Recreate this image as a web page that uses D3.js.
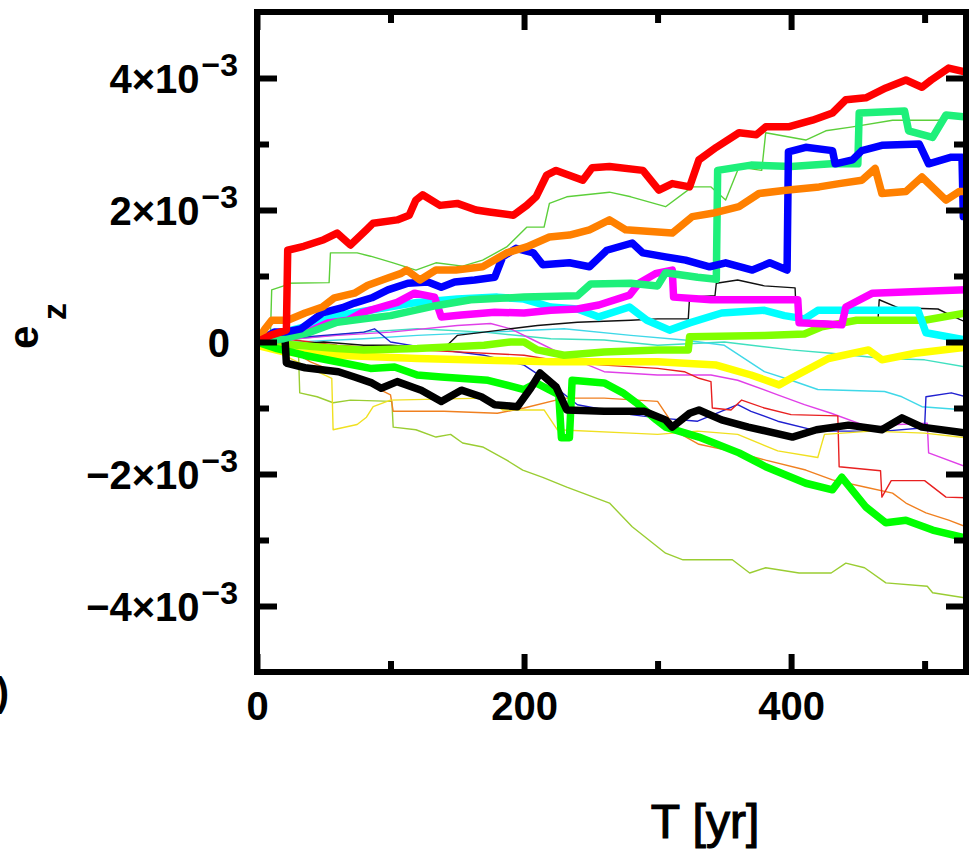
<!DOCTYPE html>
<html>
<head>
<meta charset="utf-8">
<script src="https://cdn.jsdelivr.net/npm/d3@7"></script>
<style>
  body { margin: 0; background: #fff; }
  text { font-family: "Liberation Sans", Arial, sans-serif; fill: #000; }
</style>
</head>
<body>
<div id="chart"></div>
<script>
// e_z values in units of 1e-3 as [T (yr), e_z]
var UNIT = 1e-3;

// thick lines
var redThick = [[0,0],[10,0.1],[22,0.18],[23,1.39],[35,1.45],[50,1.55],[60,1.65],[70,1.47],[82,1.7],[87,1.8],[105,1.85],[114,1.92],[119,2.15],[124,2.23],[137,2.07],[150,2.1],[164,2.0],[174,1.97],[192,1.92],[202,2.07],[209,2.2],[217,2.53],[224,2.6],[244,2.45],[251,2.64],[264,2.66],[289,2.6],[301,2.3],[311,2.4],[324,2.35],[331,2.76],[344,2.95],[361,3.17],[374,3.14],[381,3.26],[398,3.26],[416,3.36],[431,3.47],[441,3.67],[456,3.7],[471,3.85],[486,3.97],[498,3.86],[505,3.97],[518,4.15],[531,4.09]];
var orangeThick = [[0,0],[6,0.2],[11,0.33],[23,0.33],[36,0.44],[49,0.53],[58,0.67],[73,0.74],[83,0.86],[98,0.97],[108,1.04],[112,1.09],[122,0.94],[134,1.09],[149,1.09],[169,1.14],[187,1.35],[202,1.44],[219,1.59],[234,1.62],[249,1.7],[264,1.85],[276,1.7],[311,1.65],[326,1.9],[341,1.95],[361,2.05],[376,2.25],[396,2.3],[421,2.35],[436,2.4],[453,2.45],[463,2.63],[468,2.25],[486,2.28],[498,2.5],[516,2.15],[526,2.28],[531,2.28]];
var blueThick = [[0,0],[13,0.15],[21,0.15],[33,0.2],[49,0.44],[64,0.52],[73,0.59],[86,0.67],[98,0.79],[113,0.89],[128,0.91],[138,0.83],[148,0.91],[163,0.94],[178,0.98],[184,1.29],[194,1.42],[207,1.35],[214,1.17],[234,1.2],[249,1.14],[262,1.39],[281,1.5],[289,1.35],[306,1.29],[321,1.24],[339,1.14],[351,1.2],[371,1.09],[384,1.2],[397,1.09],[398,2.88],[411,2.95],[431,2.9],[433,2.7],[446,2.76],[453,2.9],[468,2.98],[496,3.0],[503,2.7],[520,2.8],[528,2.8],[529,1.9],[531,1.9]];
var springThick = [[0,0],[20,0.05],[40,0.15],[60,0.3],[80,0.35],[100,0.4],[134,0.55],[160,0.64],[200,0.68],[240,0.7],[250,0.88],[280,0.89],[300,0.85],[306,1.05],[330,0.98],[344,0.95],[345,2.6],[370,2.68],[400,2.66],[430,2.7],[450,2.7],[451,3.47],[485,3.5],[488,3.2],[506,3.1],[516,3.44],[531,3.41]];
var magentaThick = [[0,0],[20,0.05],[38,0.15],[53,0.29],[68,0.33],[78,0.44],[93,0.53],[105,0.6],[118,0.74],[133,0.68],[138,0.38],[153,0.41],[178,0.45],[200,0.44],[220,0.48],[240,0.5],[256,0.56],[279,0.71],[286,0.89],[299,1.04],[311,1.09],[312,0.68],[340,0.64],[380,0.64],[405,0.64],[406,0.29],[438,0.26],[441,0.53],[461,0.74],[490,0.76],[531,0.79]];
var cyanThick = [[0,0],[20,0.15],[40,0.25],[60,0.4],[90,0.5],[120,0.6],[150,0.65],[180,0.68],[200,0.65],[220,0.53],[240,0.5],[256,0.38],[279,0.53],[292,0.33],[309,0.18],[324,0.29],[348,0.44],[380,0.48],[395,0.4],[410,0.35],[420,0.48],[495,0.48],[501,0.14],[531,0.03]];
var chartreuseThick = [[0,0],[30,-0.05],[60,-0.1],[80,-0.12],[120,-0.1],[170,-0.05],[190,0.0],[200,0.0],[210,-0.12],[230,-0.2],[260,-0.15],[300,-0.12],[323,-0.12],[324,0.08],[380,0.1],[410,0.12],[423,0.23],[449,0.33],[500,0.33],[531,0.44]];
var yellowThick = [[0,-0.05],[20,-0.15],[60,-0.2],[120,-0.25],[180,-0.28],[220,-0.3],[260,-0.3],[300,-0.3],[344,-0.35],[370,-0.5],[391,-0.65],[400,-0.55],[428,-0.25],[458,-0.12],[468,-0.27],[493,-0.17],[531,-0.08]];
var greenThick = [[0,0],[15,-0.1],[35,-0.2],[60,-0.3],[85,-0.4],[103,-0.38],[120,-0.5],[138,-0.53],[173,-0.58],[200,-0.72],[209,-0.62],[226,-0.8],[228,-1.45],[234,-1.45],[236,-0.58],[260,-0.62],[274,-0.77],[284,-0.92],[299,-1.18],[306,-1.29],[331,-1.44],[361,-1.68],[381,-1.89],[411,-2.14],[431,-2.24],[438,-2.05],[456,-2.5],[471,-2.74],[486,-2.7],[506,-2.85],[531,-2.97]];
var blackThick = [[0,0],[10,0.05],[21,0.05],[22,-0.32],[36,-0.39],[61,-0.45],[73,-0.53],[86,-0.62],[93,-0.7],[105,-0.6],[123,-0.73],[138,-0.9],[153,-0.73],[168,-0.83],[178,-0.95],[195,-0.98],[205,-0.7],[212,-0.47],[224,-0.68],[232,-1.03],[260,-1.05],[290,-1.05],[306,-1.18],[311,-1.29],[324,-1.08],[331,-1.03],[348,-1.18],[368,-1.29],[401,-1.44],[419,-1.33],[443,-1.26],[468,-1.33],[483,-1.15],[498,-1.29],[531,-1.38]];

// thin lines
var greenThin = [[0,0],[10,0.05],[11,0.79],[20,0.85],[22,0.89],[54,0.9],[55,1.35],[75,1.35],[85,1.3],[102,1.2],[119,1.09],[134,1.2],[154,1.15],[169,1.24],[187,1.44],[202,1.74],[215,1.74],[219,2.1],[232,2.2],[264,2.27],[280,2.2],[306,2.05],[326,2.35],[340,2.35],[351,2.15],[361,2.65],[378,2.6],[381,3.17],[411,3.06],[426,3.2],[446,3.26],[476,3.36],[510,3.36],[531,3.44]];
var yellowgreenThin = [[0,0],[15,-0.05],[31,-0.12],[32,-0.77],[45,-0.83],[57,-0.92],[70,-0.88],[101,-0.9],[102,-1.29],[119,-1.33],[134,-1.44],[145,-1.4],[154,-1.53],[169,-1.59],[187,-1.79],[199,-1.94],[214,-2.05],[232,-2.2],[244,-2.29],[264,-2.44],[281,-2.8],[306,-3.2],[319,-3.3],[356,-3.3],[369,-3.5],[381,-3.42],[406,-3.5],[430,-3.5],[441,-3.35],[455,-3.42],[471,-3.65],[502,-3.7],[506,-3.8],[531,-3.88]];
var yellowThin = [[0,0],[20,-0.2],[40,-0.4],[56,-0.55],[57,-1.33],[75,-1.25],[82,-1.14],[87,-0.98],[100,-0.88],[170,-0.85],[184,-1.03],[215,-1.03],[225,-1.33],[280,-1.38],[300,-1.4],[330,-1.35],[360,-1.4],[390,-1.65],[420,-1.75],[425,-1.4],[460,-1.35],[500,-1.38],[531,-1.45]];
var orangeThin = [[0,0],[20,-0.05],[40,-0.3],[58,-0.45],[80,-0.6],[100,-0.8],[102,-1.05],[140,-1.05],[180,-1.08],[200,-1.0],[230,-0.85],[260,-0.85],[300,-0.9],[316,-1.38],[331,-1.55],[361,-1.68],[381,-1.79],[411,-1.94],[431,-2.09],[456,-2.2],[476,-2.29],[486,-2.44],[501,-2.59],[518,-2.7],[531,-2.8]];
var redThin = [[0,0],[20,0.05],[60,-0.05],[100,-0.1],[150,-0.15],[200,-0.2],[230,-0.3],[260,-0.35],[300,-0.4],[320,-0.45],[331,-0.55],[340,-0.6],[341,-1.0],[355,-1.03],[363,-0.88],[380,-1.0],[400,-1.1],[435,-1.12],[436,-1.89],[467,-1.95],[468,-2.35],[475,-2.1],[500,-2.1],[516,-2.35],[531,-2.36]];
var blueThin = [[0,0],[20,0.05],[50,0.1],[80,0.15],[88,0.2],[100,0.0],[130,-0.1],[170,-0.2],[200,-0.35],[215,-0.55],[240,-0.95],[280,-1.1],[300,-1.15],[330,-1.2],[360,-0.95],[370,-1.05],[390,-1.2],[420,-1.35],[470,-1.35],[500,-1.3],[501,-0.83],[520,-0.77],[531,-0.83]];
var magentaThin = [[0,0],[30,0.05],[60,0.1],[100,0.15],[150,0.25],[175,0.28],[190,0.2],[210,0.0],[230,-0.2],[260,-0.45],[300,-0.5],[340,-0.5],[360,-0.58],[390,-0.8],[410,-0.95],[430,-1.08],[460,-1.3],[480,-1.25],[502,-1.23],[503,-1.68],[531,-1.89]];
var cyanThin = [[0,0],[30,0.0],[80,0.05],[120,0.1],[174,0.15],[230,0.2],[280,0.1],[320,0.03],[350,-0.05],[380,-0.45],[400,-0.58],[420,-0.72],[470,-0.75],[483,-0.83],[498,-0.98],[531,-1.03]];
var aquaThin = [[0,0],[30,0.05],[80,0.15],[120,0.2],[170,0.15],[220,0.05],[260,0.03],[300,-0.05],[350,0.0],[400,-0.12],[430,-0.17],[470,-0.25],[500,-0.27],[531,-0.38]];
var blackThin = [[0,0],[20,-0.05],[50,0.0],[80,-0.05],[100,-0.05],[140,-0.1],[150,0.1],[170,0.15],[190,0.2],[210,0.25],[240,0.3],[280,0.33],[300,0.35],[323,0.35],[324,0.68],[343,0.7],[344,0.89],[360,0.94],[380,0.85],[403,0.82],[404,0.33],[440,0.3],[465,0.3],[466,0.64],[480,0.52],[510,0.5],[520,0.4],[531,0.3]];

var yMajor = [-4, -2, 0, 2, 4];
var yMinor = [-3, -1, 1, 3];
var xMajor = [0, 200, 400];
var xMinor = [100, 300, 500];

(function(){
  var thinSeries = [
    {data: yellowgreenThin, color: "#9acd32"},
    {data: greenThin, color: "#5ccf3a"},
    {data: aquaThin, color: "#40e0c0"},
    {data: cyanThin, color: "#3fd8e8"},
    {data: magentaThin, color: "#e040e8"},
    {data: blueThin, color: "#2020d0"},
    {data: orangeThin, color: "#f08020"},
    {data: redThin, color: "#e82020"},
    {data: yellowThin, color: "#f0e020"},
    {data: blackThin, color: "#111"}
  ];
  var thickSeries = [
    {data: yellowThick, color: "#ffff00"},
    {data: chartreuseThick, color: "#80ff00"},
    {data: cyanThick, color: "#00ffff"},
    {data: magentaThick, color: "#ff00ff"},
    {data: greenThick, color: "#00ff00"},
    {data: blackThick, color: "#000000"},
    {data: springThick, color: "#1ef07a"},
    {data: blueThick, color: "#0000ff"},
    {data: orangeThick, color: "#ff8000"},
    {data: redThick, color: "#ff0000"}
  ];

  var width = 977, height = 853;
  var pLeft = 257, pRight = 966, pTop = 12, pBottom = 672;

  var svg = d3.select("#chart").append("svg")
    .attr("width", width).attr("height", height);

  var x = d3.scaleLinear().domain([0, 531]).range([pLeft, pRight]);
  var y = d3.scaleLinear().domain([-5 * UNIT, 5 * UNIT]).range([pBottom, pTop]);

  svg.append("clipPath").attr("id", "plotclip")
    .append("rect").attr("x", pLeft).attr("y", pTop)
    .attr("width", pRight - pLeft).attr("height", pBottom - pTop);

  var line = d3.line()
    .x(function(d){ return x(d[0]); })
    .y(function(d){ return y(d[1] * UNIT); });

  var g = svg.append("g").attr("clip-path", "url(#plotclip)");

  g.selectAll("path.thin").data(thinSeries).enter().append("path")
    .attr("class", "thin")
    .attr("d", function(d){ return line(d.data); })
    .attr("fill", "none")
    .attr("stroke", function(d){ return d.color; })
    .attr("stroke-width", 1.4)
    .attr("stroke-linejoin", "round");

  g.selectAll("path.thick").data(thickSeries).enter().append("path")
    .attr("class", "thick")
    .attr("d", function(d){ return line(d.data); })
    .attr("fill", "none")
    .attr("stroke", function(d){ return d.color; })
    .attr("stroke-width", 7.5)
    .attr("stroke-linejoin", "round");

  // axes: ticks point inward on all four sides
  function tickAxis(axis, scale, values, len, labels) {
    return axis(scale).tickValues(values).tickSize(-len).tickSizeOuter(0)
      .tickFormat(labels ? null : "");
  }
  function styleAxis(sel) {
    sel.select(".domain").remove();
    sel.selectAll(".tick line").attr("stroke", "#000").attr("stroke-width", 6);
  }
  var yVals = function(arr){ return arr.map(function(v){ return v * UNIT; }); };

  var yLeft = svg.append("g").attr("transform", "translate(" + pLeft + ",0)")
    .call(tickAxis(d3.axisLeft, y, yVals(yMajor), 20, true).tickPadding(19));
  yLeft.call(styleAxis);
  svg.append("g").attr("transform", "translate(" + pLeft + ",0)")
    .call(tickAxis(d3.axisLeft, y, yVals(yMinor), 12, false)).call(styleAxis);
  svg.append("g").attr("transform", "translate(" + pRight + ",0)")
    .call(tickAxis(d3.axisRight, y, yVals(yMajor), 20, false)).call(styleAxis);
  svg.append("g").attr("transform", "translate(" + pRight + ",0)")
    .call(tickAxis(d3.axisRight, y, yVals(yMinor), 12, false)).call(styleAxis);

  yLeft.selectAll(".tick text")
    .attr("font-size", 40).attr("font-weight", "bold").attr("dy", "0.36em")
    .each(function(d){
      var t = d3.select(this);
      var m = Math.round(d / UNIT);
      t.text(null);
      if (m === 0) {
        t.attr("x", -27).text("0");
        return;
      }
      t.append("tspan").text((m < 0 ? "\u2212" : "") + Math.abs(m) + "\u00d710");
      t.append("tspan").attr("font-size", 32).attr("dx", 2).attr("dy", -17).text("\u22123");
    });

  var xBottom = svg.append("g").attr("transform", "translate(0," + pBottom + ")")
    .call(tickAxis(d3.axisBottom, x, xMajor, 18, true).tickPadding(20));
  xBottom.call(styleAxis);
  xBottom.selectAll(".tick text").attr("font-size", 40).attr("font-weight", "bold");
  svg.append("g").attr("transform", "translate(0," + pBottom + ")")
    .call(tickAxis(d3.axisBottom, x, xMinor, 11, false)).call(styleAxis);
  svg.append("g").attr("transform", "translate(0," + pTop + ")")
    .call(tickAxis(d3.axisTop, x, xMajor, 18, false)).call(styleAxis);
  svg.append("g").attr("transform", "translate(0," + pTop + ")")
    .call(tickAxis(d3.axisTop, x, xMinor, 11, false)).call(styleAxis);

  // frame
  svg.append("rect")
    .attr("x", pLeft).attr("y", pTop)
    .attr("width", pRight - pLeft).attr("height", pBottom - pTop)
    .attr("fill", "none").attr("stroke", "#000").attr("stroke-width", 6);

  // axis titles
  svg.append("text")
    .attr("x", 705).attr("y", 838)
    .attr("text-anchor", "middle")
    .attr("font-size", 48)
    .attr("stroke", "#000").attr("stroke-width", 1.2)
    .text("T [yr]");

  svg.append("text")
    .attr("transform", "translate(38,349) rotate(-90)")
    .attr("font-size", 42).attr("font-weight", "bold")
    .text("e");
  svg.append("text")
    .attr("transform", "translate(66,320) rotate(-90)")
    .attr("font-size", 34).attr("font-weight", "bold")
    .text("z");

  svg.append("text")
    .attr("x", 9).attr("y", 706)
    .attr("text-anchor", "end")
    .attr("font-size", 40).attr("font-weight", "bold")
    .text("(b)");
})();
</script>
</body>
</html>
